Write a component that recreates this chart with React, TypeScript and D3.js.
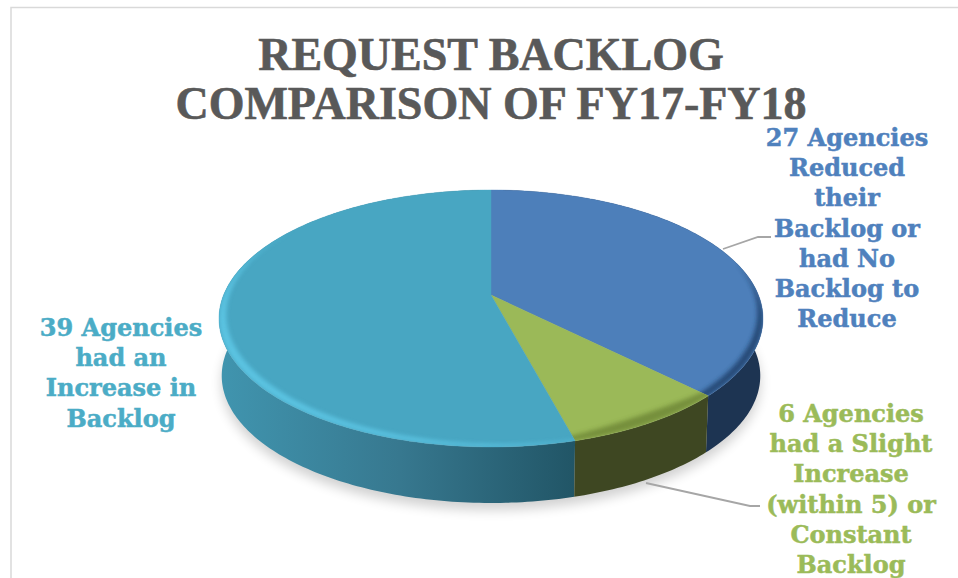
import * as d3 from 'd3';

const categories = ['Reduced or none', 'Slight increase or constant', 'Increase'];
const agencyCounts = [27, 6, 39];
const topColors = ['#4d7fba', '#9bb958', '#48a6c2'];
const textColors = ['#4f81bd', '#9bbb59', '#4bacc6'];
const titleLines = ['REQUEST BACKLOG', 'COMPARISON OF FY17-FY18'];
const labelLines = [
	['27 Agencies', 'Reduced', 'their', 'Backlog or', 'had No', 'Backlog to', 'Reduce'],
	['6 Agencies', 'had a Slight', 'Increase', '(within 5) or', 'Constant', 'Backlog'],
	['39 Agencies', 'had an', 'Increase in', 'Backlog'],
];

const width = 958;
const height = 578;
const cx = 491;
const cy = 295;
const radiusX = 267.4;
const radiusY = 124.2;
const tilt = 0.1829;
const bottomY = 352.5;
const bottomScale = 0.99;

// perspective projection of a point on the pie disc
const project = (angle: number, r = 1, originY = cy, scale = 1): [number, number] => {
	const u = r * Math.sin(angle);
	const v = -r * Math.cos(angle);
	const w = 1 - tilt * v;
	return [cx + (scale * radiusX * u) / w, originY + (scale * radiusY * v) / w];
};

const sampleArc = (a0: number, a1: number, originY = cy, scale = 1) => {
	const n = Math.max(2, Math.ceil(Math.abs(a1 - a0) * 60));
	return d3.range(n + 1).map((i) => project(a0 + ((a1 - a0) * i) / n, 1, originY, scale));
};

const line = d3.line();
const slices = d3.pie<number>().sort(null)(agencyCounts);

const slicePath = (a0: number, a1: number) => line([[cx, cy], ...sampleArc(a0, a1)]) + 'Z';
const wallPath = (a0: number, a1: number) =>
	line([...sampleArc(a0, a1), ...sampleArc(a1, a0, bottomY, bottomScale)]) + 'Z';

// tapered crescent along the rim, widest in the middle of [a0, a1]
const rimPath = (a0: number, a1: number, depth: number) => {
	const n = 80;
	const inner = d3.range(n + 1).map((i) => {
		const f = i / n;
		return project(a0 + (a1 - a0) * f, 1 - depth * Math.sin(Math.PI * f));
	});
	return line([...sampleArc(a0, a1), ...inner.reverse()]) + 'Z';
};

// rim shading on the front edge of each slice, range given as share of the slice
const rimColors = ['#1f3d66', '#6f8838', '#62cdec'];
const rimRanges: [number, number][] = [
	[0.55, 1.35],
	[-0.3, 1.3],
	[-0.05, 0.72],
];
const rimDepths = [0.03, 0.05, 0.032];
const rimOpacity = [0.8, 0.85, 0.75];

const wallStops = [
	[['#1d3452', 0], ['#1d3452', 1]],
	[['#434d24', 0], ['#3e4722', 1]],
	[['#4094ae', 0], ['#37788f', 0.5], ['#215566', 1]],
];
const wallExtent = d3.scaleLinear().domain([0, 1]).range([224, 576]);

const leaders = [
	[[723, 249], [758, 237], [771, 237]],
	[[646, 483], [750, 506], [760, 506]],
] as [number, number][][];

const labelAnchors = [
	{ x: 847, y: 146 },
	{ x: 851, y: 422 },
	{ x: 121, y: 336 },
];

export default function App() {
	return (
		<svg
			width={width}
			height={height}
			viewBox={`0 0 ${width} ${height}`}
			style={{ position: 'fixed', left: 0, top: 0, background: '#fff' }}
		>
			<defs>
				<filter id="shadowBlur" x="-10%" y="-10%" width="120%" height="130%">
					<feGaussianBlur stdDeviation="6" />
				</filter>
				<filter id="rimBlur" x="-10%" y="-10%" width="120%" height="120%">
					<feGaussianBlur stdDeviation="2" />
				</filter>
				{slices.map((s, i) => (
					<clipPath id={`clip-${i}`} key={categories[i]}>
						<path d={slicePath(s.startAngle, s.endAngle)} />
					</clipPath>
				))}
				{wallStops.map((stops, i) => (
					<linearGradient
						id={`wall-${i}`}
						key={i}
						gradientUnits="userSpaceOnUse"
						x1={wallExtent(0)}
						x2={wallExtent(1)}
						y1={0}
						y2={0}
					>
						{stops.map(([color, offset]) => (
							<stop key={offset as number} offset={offset as number} stopColor={color as string} />
						))}
					</linearGradient>
				))}
			</defs>

			{/* frame */}
			<path d={`M${width},7.5H11V${height}`} fill="none" stroke="#d9d9d9" strokeWidth={1.5} />

			{/* title */}
			<g
				fontFamily="'Liberation Serif', serif"
				fontWeight="bold"
				fontSize={46}
				fill="#595959"
				stroke="#595959"
				strokeWidth={0.6}
				textAnchor="middle"
			>
				{titleLines.map((t, i) => (
					<text key={t} x={491} y={70 + i * 49}>
						{t}
					</text>
				))}
			</g>

			{/* soft shadow under the pie */}
			<path
				d={line(sampleArc(0, Math.PI * 2, bottomY + 7, bottomScale)) + 'Z'}
				fill="#000"
				opacity={0.18}
				filter="url(#shadowBlur)"
			/>

			{/* side walls */}
			{[2, 0, 1].map((i) => (
				<path key={i} d={wallPath(slices[i].startAngle, slices[i].endAngle)} fill={`url(#wall-${i})`} />
			))}

			{/* top surface */}
			{slices.map((s, i) => {
				const span = s.endAngle - s.startAngle;
				const [f0, f1] = rimRanges[i];
				return (
					<g key={categories[i]}>
						<path d={slicePath(s.startAngle, s.endAngle)} fill={topColors[i]} stroke={topColors[i]} strokeWidth={0.4} />
						<g clipPath={`url(#clip-${i})`}>
							<path
								d={rimPath(s.startAngle + span * f0, s.startAngle + span * f1, rimDepths[i])}
								fill={rimColors[i]}
								opacity={rimOpacity[i]}
								filter="url(#rimBlur)"
							/>
						</g>
					</g>
				);
			})}

			{/* leader lines */}
			{leaders.map((l, i) => (
				<path key={i} d={line(l) ?? ''} fill="none" stroke="#a6a6a6" strokeWidth={1.8} />
			))}

			{/* labels */}
			<g
				fontFamily="'DejaVu Serif', serif"
				fontWeight="bold"
				fontSize={24}
				textAnchor="middle"
				strokeWidth={0.5}
			>
				{labelLines.map((lines, i) =>
					lines.map((t, j) => (
						<text
							key={t}
							x={labelAnchors[i].x}
							y={labelAnchors[i].y + j * 30.2}
							fill={textColors[i]}
							stroke={textColors[i]}
						>
							{t}
						</text>
					))
				)}
			</g>
		</svg>
	);
}
